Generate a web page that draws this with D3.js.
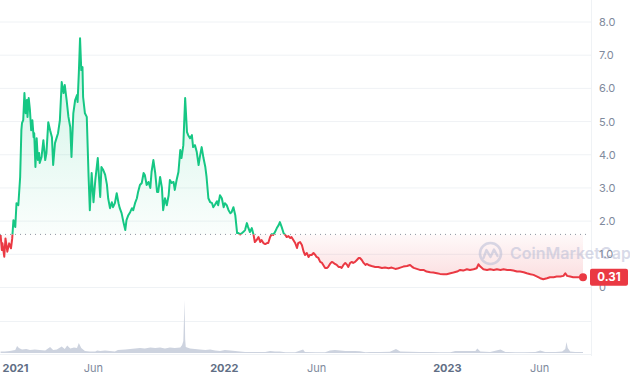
<!DOCTYPE html>
<html><head><meta charset="utf-8">
<script src="https://cdn.jsdelivr.net/npm/d3@7"></script>
<style>
body{margin:0;background:#fff}
svg{display:block;font-family:Inter,"Noto Sans",sans-serif}
</style>
</head><body>
<svg id="c" width="630" height="380"></svg>
<script>
// ---------- data ----------
const startDate = "2020-12-31";
const endDate = "2023-08-11";
const priceDays = [0,2,3,6,8,11,14,17,19,21,24,26,29,32,34,35,37,39,41,43,44,46,48,50,52,54,55,57,59,61,63,64,67,70,73,75,78,81,84,86,89,92,94,97,100,103,105,108,111,114,116,119,122,125,126,128,130,132,134,135,138,141,144,146,149,152,155,159,163,165,168,171,174,176,179,182,184,187,190,193,195,198,201,204,206,209,212,215,217,220,223,225,228,231,234,236,239,242,245,247,250,253,256,258,261,264,266,269,272,275,277,280,283,285,288,291,294,296,299,302,305,307,310,313,315,318,321,324,326,329,332,335,337,340,343,346,348,351,354,356,359,362,365,367,370,373,376,378,381,384,387,389,392,395,397,400,403,405,408,411,414,416,419,422,425,427,430,433,436,438,441,444,446,449,452,455,457,460,463,466,468,471,474,476,479,482,485,487,490,493,496,498,501,504,506,509,512,515,517,520,523,526,528,531,534,536,539,542,545,547,550,553,556,558,561,564,567,569,572,575,577,580,583,586,588,591,594,597,599,602,607,613,618,624,629,635,640,646,651,654,659,665,670,673,676,681,686,692,697,703,708,714,719,725,730,736,741,747,752,757,763,768,774,779,782,785,790,796,801,807,812,818,823,829,834,839,845,850,856,861,867,872,878,883,888,894,899,905,910,916,921,924,927,932,937,943,948,953];
const prices = [1.58,1.13,1.33,0.93,1.48,1.08,1.33,1.18,1.48,2.03,1.82,2.54,2.48,3.33,4.74,4.95,5.04,5.86,5.25,5.65,5.14,5.71,5.35,4.74,5.04,4.53,4.65,3.63,4.5,3.84,4.05,3.75,3.93,4.44,3.84,4.05,4.98,4.74,4.53,3.69,4.35,4.53,4.65,5.04,6.19,5.86,6.1,5.65,5.14,4.83,3.93,5.25,5.65,5.8,5.59,6.46,7.51,6.55,6.64,5.74,5.25,5.14,3.33,2.33,3.45,2.57,3.24,3.9,2.73,3.63,3.54,3.4,3.1,2.69,2.39,2.57,2.42,2.54,2.84,2.54,2.39,2.24,1.97,1.73,2.03,2.18,2.27,2.39,2.33,2.54,2.69,2.88,3.09,3.15,3.45,3.39,3.09,3.18,3.0,3.48,3.84,3.45,2.88,2.88,3.33,3.0,2.33,2.69,2.48,2.78,3.24,3.15,3.18,2.94,3.24,3.48,4.14,3.9,4.29,5.71,4.68,4.59,4.5,4.59,4.23,4.29,4.08,3.69,3.93,4.23,3.9,3.63,3.33,2.69,2.57,2.54,2.42,2.5,2.6,2.48,2.78,2.69,2.42,2.54,2.48,2.33,2.24,2.27,2.42,2.18,1.64,1.64,1.6,1.64,1.67,1.73,1.94,1.82,1.67,1.79,1.58,1.37,1.43,1.52,1.37,1.43,1.34,1.31,1.34,1.34,1.52,1.61,1.58,1.67,1.79,1.88,1.97,1.82,1.64,1.58,1.52,1.55,1.49,1.52,1.43,1.34,1.19,1.34,1.37,1.28,1.07,0.98,1.04,0.92,0.98,0.98,1.04,0.98,0.92,0.89,0.77,0.74,0.68,0.59,0.59,0.62,0.71,0.77,0.74,0.71,0.68,0.62,0.62,0.59,0.68,0.74,0.68,0.62,0.74,0.77,0.74,0.77,0.83,0.89,0.89,0.83,0.74,0.68,0.71,0.68,0.65,0.62,0.62,0.59,0.6,0.58,0.6,0.56,0.58,0.6,0.63,0.65,0.68,0.63,0.59,0.56,0.53,0.53,0.48,0.46,0.45,0.43,0.41,0.40,0.40,0.43,0.45,0.48,0.53,0.51,0.55,0.53,0.55,0.58,0.70,0.63,0.55,0.53,0.55,0.53,0.55,0.53,0.55,0.53,0.53,0.51,0.48,0.48,0.46,0.43,0.40,0.38,0.33,0.28,0.25,0.28,0.31,0.31,0.33,0.33,0.35,0.43,0.35,0.33,0.31,0.31,0.31,0.31];
const volumeDays = [0,7,15,24,27,30,35,42,48,56,64,73,81,86,92,100,105,109,114,120,125,128,132,138,146,155,158,163,171,179,187,192,204,212,220,228,236,245,253,261,269,277,285,294,297,299,301,302,303,310,318,326,335,343,351,359,367,376,384,392,400,408,416,425,433,441,449,457,466,482,495,498,515,531,539,547,556,564,572,580,588,597,605,621,637,647,654,670,686,703,719,736,744,760,777,780,785,801,818,826,842,858,875,883,891,908,919,924,926,928,932,940,953];
const volumes = [15,15,20,30,70,50,35,40,30,35,30,25,60,30,35,65,40,75,45,55,50,100,50,20,15,15,25,20,25,20,15,30,35,40,45,50,45,55,50,55,45,55,50,55,80,120,530,140,60,45,40,35,30,35,25,20,30,25,20,15,10,10,10,10,10,20,15,15,8,8,35,10,8,8,25,30,25,20,20,20,18,8,10,10,12,40,15,12,10,10,8,8,20,20,20,45,15,10,35,10,8,8,10,25,10,10,15,40,110,50,15,10,10];
const baselinePrice = 1.6;
const lastPrice = 0.31;
const yTicks = [0,1,2,3,4,5,6,7,8];
const xTickDates = ["2021-01-01","2021-06-01","2022-01-01","2022-06-01","2023-01-01","2023-06-01"];
const xTickLabels = ["2021","Jun","2022","Jun","2023","Jun"];
const xTickMajor = [true,false,true,false,true,false];

// ---------- setup ----------
const GREEN = "#16c784", RED = "#ea3943";
const svg = d3.select("#c");
const start = new Date(startDate + "T00:00:00Z");
const dayToDate = d => d3.utcDay.offset(start, d);
const priceData = priceDays.map((d, i) => ({date: dayToDate(d), v: prices[i]}));
const volData = volumeDays.map((d, i) => ({date: dayToDate(d), v: volumes[i]}));

const x = d3.scaleUtc().domain([start, new Date(endDate + "T00:00:00Z")]).range([0.6, 583]);
const y = d3.scaleLinear().domain([0, 8]).range([287.5, 22]);
const yv = d3.scaleLinear().domain([0, 530]).range([353, 300]);
const plotRight = 591;

const defs = svg.append("defs");
const gG = defs.append("linearGradient").attr("id", "gG").attr("gradientUnits", "userSpaceOnUse")
  .attr("x1", 0).attr("x2", 0).attr("y1", y(7.6)).attr("y2", y(baselinePrice));
gG.append("stop").attr("offset", 0).attr("stop-color", GREEN).attr("stop-opacity", 0.22);
gG.append("stop").attr("offset", 1).attr("stop-color", GREEN).attr("stop-opacity", 0.02);
const gR = defs.append("linearGradient").attr("id", "gR").attr("gradientUnits", "userSpaceOnUse")
  .attr("x1", 0).attr("x2", 0).attr("y1", y(baselinePrice)).attr("y2", y(0.3));
gR.append("stop").attr("offset", 0).attr("stop-color", RED).attr("stop-opacity", 0.03);
gR.append("stop").attr("offset", 1).attr("stop-color", RED).attr("stop-opacity", 0.16);
defs.append("clipPath").attr("id", "above").append("rect")
  .attr("x", -5).attr("y", 0).attr("width", 640).attr("height", y(baselinePrice));
defs.append("clipPath").attr("id", "below").append("rect")
  .attr("x", -5).attr("y", y(baselinePrice)).attr("width", 640).attr("height", 380 - y(baselinePrice));

// grid
svg.append("g").selectAll("line").data(yTicks).join("line")
  .attr("x1", 0).attr("x2", plotRight).attr("y1", d => y(d)).attr("y2", d => y(d))
  .attr("stroke", "#eff2f5").attr("stroke-width", 1);
svg.append("line").attr("x1", 0).attr("x2", plotRight).attr("y1", 321.5).attr("y2", 321.5).attr("stroke", "#eff2f5");
svg.append("line").attr("x1", 0).attr("x2", plotRight).attr("y1", 354.5).attr("y2", 354.5).attr("stroke", "#eff2f5");
svg.append("line").attr("x1", plotRight + 0.5).attr("x2", plotRight + 0.5).attr("y1", 0).attr("y2", 356)
  .attr("stroke", "#eff2f5");

// volume
svg.append("path").datum(volData)
  .attr("d", d3.area().x(d => x(d.date)).y0(yv(0)).y1(d => yv(d.v)))
  .attr("fill", "#cdd3df");

// price area
const area = d3.area().x(d => x(d.date)).y0(y(baselinePrice)).y1(d => y(d.v));
svg.append("path").datum(priceData).attr("d", area).attr("fill", "url(#gG)").attr("clip-path", "url(#above)");
svg.append("path").datum(priceData).attr("d", area).attr("fill", "url(#gR)").attr("clip-path", "url(#below)");

// baseline dotted
svg.append("line").attr("x1", 0).attr("x2", 586).attr("y1", y(baselinePrice)).attr("y2", y(baselinePrice))
  .attr("stroke", "#8d93a0").attr("stroke-width", 1).attr("stroke-dasharray", "1,4");

// watermark
const wm = svg.append("g").attr("opacity", 0.55);
wm.append("circle").attr("cx", 490.5).attr("cy", 253.5).attr("r", 10.5)
  .attr("fill", "none").attr("stroke", "#b9bdd6").attr("stroke-width", 2.6);
wm.append("path").attr("d", "M483.5,258 L486.5,250 L490.5,257 L494,249.5 L497.5,256")
  .attr("fill", "none").attr("stroke", "#b9bdd6").attr("stroke-width", 2.4).attr("stroke-linejoin", "round").attr("stroke-linecap", "round");
wm.append("text").attr("x", 510).attr("y", 259).attr("font-size", 16).attr("font-weight", 600)
  .attr("fill", "#b9bdd6").text("CoinMarketCap");

// price line
const line = d3.line().x(d => x(d.date)).y(d => y(d.v)).curve(d3.curveLinear);
svg.append("path").datum(priceData).attr("d", line).attr("fill", "none").attr("stroke", GREEN)
  .attr("stroke-width", 2).attr("stroke-linejoin", "round").attr("clip-path", "url(#above)");
svg.append("path").datum(priceData).attr("d", line).attr("fill", "none").attr("stroke", RED)
  .attr("stroke-width", 2).attr("stroke-linejoin", "round").attr("clip-path", "url(#below)");

// y labels
svg.append("g").selectAll("text").data(yTicks).join("text")
  .attr("x", 599).attr("y", d => y(d)).attr("dy", "0.36em")
  .attr("font-size", 11).attr("fill", "#808a9d")
  .text(d => d === 0 ? "0" : d.toFixed(1));

// last price marker
const last = priceData[priceData.length - 1];
svg.append("circle").attr("cx", x(last.date)).attr("cy", y(last.v)).attr("r", 4).attr("fill", RED);
svg.append("rect").attr("x", 590).attr("y", y(lastPrice) - 8.5).attr("width", 38).attr("height", 17)
  .attr("rx", 2).attr("fill", RED);
svg.append("text").attr("x", 609).attr("y", y(lastPrice)).attr("dy", "0.36em").attr("text-anchor", "middle")
  .attr("font-size", 11.5).attr("font-weight", 700).attr("fill", "#fff").text(lastPrice.toFixed(2));

// x labels
const xl = svg.append("g");
xTickDates.forEach((ds, i) => {
  const t = xl.append("text").attr("y", 368.5).attr("dy", "0.36em").attr("text-anchor", "middle")
    .attr("font-size", 11).attr("font-weight", xTickMajor[i] ? 700 : 400)
    .attr("fill", xTickMajor[i] ? "#616e85" : "#808a9d").text(xTickLabels[i]);
  const w = t.node().getComputedTextLength();
  const px = Math.max(x(new Date(ds + "T00:00:00Z")), w / 2 + 2.5);
  t.attr("x", px);
});
</script>
</body></html>
